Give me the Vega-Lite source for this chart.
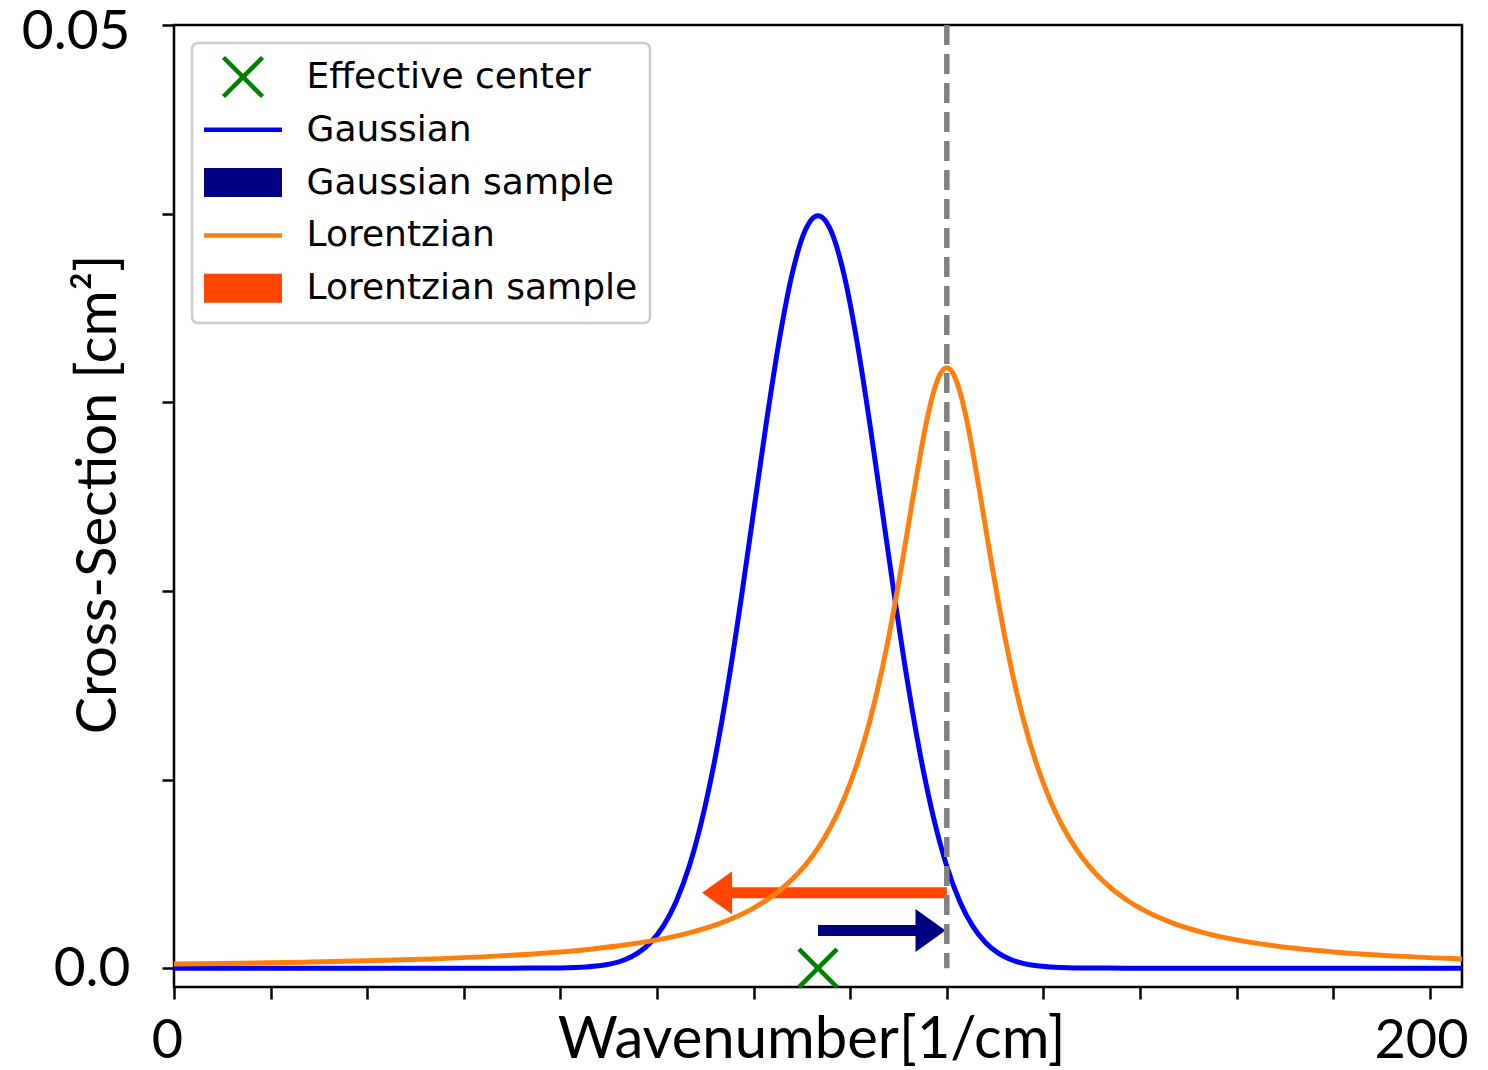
{
  "$schema": "https://vega.github.io/schema/vega-lite/v6.json",
  "width": 1288,
  "height": 962,
  "autosize": {"type": "none"},
  "padding": {"left": 174, "top": 25, "right": 26, "bottom": 83},
  "background": "white",
  "config": {
    "view": {"stroke": "black", "strokeWidth": 2.5},
    "axis": {
      "grid": false, "domain": false, "tickColor": "black", "tickWidth": 2.5, "tickSize": 12,
      "labelColor": "black", "titleColor": "black", "labelFont": "Lato", "titleFont": "Lato", "titleFontWeight": "normal"
    },
    "legend": {"strokeWidth": 2.5}
  },
  "datasets": {
    "gauss": [
      {"x": 0, "y": 0, "series": "Gaussian"}, {"x": 50, "y": 0, "series": "Gaussian"},
      {"x": 55, "y": 0.0000016, "series": "Gaussian"}, {"x": 60, "y": 0.0000134, "series": "Gaussian"},
      {"x": 64, "y": 0.0000612, "series": "Gaussian"}, {"x": 66, "y": 0.000123, "series": "Gaussian"},
      {"x": 68, "y": 0.000238, "series": "Gaussian"}, {"x": 70, "y": 0.000443, "series": "Gaussian"},
      {"x": 72, "y": 0.000792, "series": "Gaussian"}, {"x": 74, "y": 0.001358, "series": "Gaussian"},
      {"x": 76, "y": 0.002239, "series": "Gaussian"}, {"x": 78, "y": 0.003547, "series": "Gaussian"},
      {"x": 80, "y": 0.005399, "series": "Gaussian"}, {"x": 82, "y": 0.007895, "series": "Gaussian"},
      {"x": 84, "y": 0.011092, "series": "Gaussian"}, {"x": 86, "y": 0.014973, "series": "Gaussian"},
      {"x": 88, "y": 0.019419, "series": "Gaussian"}, {"x": 90, "y": 0.024197, "series": "Gaussian"},
      {"x": 92, "y": 0.028969, "series": "Gaussian"}, {"x": 94, "y": 0.033322, "series": "Gaussian"},
      {"x": 96, "y": 0.036827, "series": "Gaussian"}, {"x": 98, "y": 0.039104, "series": "Gaussian"},
      {"x": 100, "y": 0.039894, "series": "Gaussian"}, {"x": 102, "y": 0.039104, "series": "Gaussian"},
      {"x": 104, "y": 0.036827, "series": "Gaussian"}, {"x": 106, "y": 0.033322, "series": "Gaussian"},
      {"x": 108, "y": 0.028969, "series": "Gaussian"}, {"x": 110, "y": 0.024197, "series": "Gaussian"},
      {"x": 112, "y": 0.019419, "series": "Gaussian"}, {"x": 114, "y": 0.014973, "series": "Gaussian"},
      {"x": 116, "y": 0.011092, "series": "Gaussian"}, {"x": 118, "y": 0.007895, "series": "Gaussian"},
      {"x": 120, "y": 0.005399, "series": "Gaussian"}, {"x": 122, "y": 0.003547, "series": "Gaussian"},
      {"x": 124, "y": 0.002239, "series": "Gaussian"}, {"x": 126, "y": 0.001358, "series": "Gaussian"},
      {"x": 128, "y": 0.000792, "series": "Gaussian"}, {"x": 130, "y": 0.000443, "series": "Gaussian"},
      {"x": 132, "y": 0.000238, "series": "Gaussian"}, {"x": 134, "y": 0.000123, "series": "Gaussian"},
      {"x": 136, "y": 0.0000612, "series": "Gaussian"}, {"x": 140, "y": 0.0000134, "series": "Gaussian"},
      {"x": 145, "y": 0.0000016, "series": "Gaussian"}, {"x": 150, "y": 0, "series": "Gaussian"},
      {"x": 200, "y": 0, "series": "Gaussian"}
    ],
    "lorentz": [
      {"x": 0, "y": 0.00022, "series": "Lorentzian"}, {"x": 10, "y": 0.000261, "series": "Lorentzian"},
      {"x": 20, "y": 0.000315, "series": "Lorentzian"}, {"x": 30, "y": 0.000388, "series": "Lorentzian"},
      {"x": 40, "y": 0.00049, "series": "Lorentzian"}, {"x": 50, "y": 0.000637, "series": "Lorentzian"},
      {"x": 60, "y": 0.00086, "series": "Lorentzian"}, {"x": 65, "y": 0.001019, "series": "Lorentzian"},
      {"x": 70, "y": 0.001224, "series": "Lorentzian"}, {"x": 75, "y": 0.001498, "series": "Lorentzian"},
      {"x": 80, "y": 0.001872, "series": "Lorentzian"}, {"x": 85, "y": 0.002402, "series": "Lorentzian"},
      {"x": 90, "y": 0.003183, "series": "Lorentzian"}, {"x": 92, "y": 0.003601, "series": "Lorentzian"},
      {"x": 94, "y": 0.004102, "series": "Lorentzian"}, {"x": 96, "y": 0.004709, "series": "Lorentzian"},
      {"x": 98, "y": 0.005451, "series": "Lorentzian"}, {"x": 100, "y": 0.006366, "series": "Lorentzian"},
      {"x": 102, "y": 0.007507, "series": "Lorentzian"}, {"x": 104, "y": 0.008941, "series": "Lorentzian"},
      {"x": 106, "y": 0.010754, "series": "Lorentzian"}, {"x": 108, "y": 0.013046, "series": "Lorentzian"},
      {"x": 110, "y": 0.015915, "series": "Lorentzian"}, {"x": 111, "y": 0.017586, "series": "Lorentzian"},
      {"x": 112, "y": 0.019409, "series": "Lorentzian"}, {"x": 113, "y": 0.021363, "series": "Lorentzian"},
      {"x": 114, "y": 0.023405, "series": "Lorentzian"}, {"x": 115, "y": 0.025465, "series": "Lorentzian"},
      {"x": 116, "y": 0.027441, "series": "Lorentzian"}, {"x": 117, "y": 0.029203, "series": "Lorentzian"},
      {"x": 118, "y": 0.030607, "series": "Lorentzian"}, {"x": 119, "y": 0.031516, "series": "Lorentzian"},
      {"x": 120, "y": 0.031831, "series": "Lorentzian"}, {"x": 121, "y": 0.031516, "series": "Lorentzian"},
      {"x": 122, "y": 0.030607, "series": "Lorentzian"}, {"x": 123, "y": 0.029203, "series": "Lorentzian"},
      {"x": 124, "y": 0.027441, "series": "Lorentzian"}, {"x": 125, "y": 0.025465, "series": "Lorentzian"},
      {"x": 126, "y": 0.023405, "series": "Lorentzian"}, {"x": 127, "y": 0.021363, "series": "Lorentzian"},
      {"x": 128, "y": 0.019409, "series": "Lorentzian"}, {"x": 129, "y": 0.017586, "series": "Lorentzian"},
      {"x": 130, "y": 0.015915, "series": "Lorentzian"}, {"x": 132, "y": 0.013046, "series": "Lorentzian"},
      {"x": 134, "y": 0.010754, "series": "Lorentzian"}, {"x": 136, "y": 0.008941, "series": "Lorentzian"},
      {"x": 138, "y": 0.007507, "series": "Lorentzian"}, {"x": 140, "y": 0.006366, "series": "Lorentzian"},
      {"x": 142, "y": 0.005451, "series": "Lorentzian"}, {"x": 144, "y": 0.004709, "series": "Lorentzian"},
      {"x": 146, "y": 0.004102, "series": "Lorentzian"}, {"x": 148, "y": 0.003601, "series": "Lorentzian"},
      {"x": 150, "y": 0.003183, "series": "Lorentzian"}, {"x": 155, "y": 0.002402, "series": "Lorentzian"},
      {"x": 160, "y": 0.001872, "series": "Lorentzian"}, {"x": 165, "y": 0.001498, "series": "Lorentzian"},
      {"x": 170, "y": 0.001224, "series": "Lorentzian"}, {"x": 180, "y": 0.00086, "series": "Lorentzian"},
      {"x": 190, "y": 0.000637, "series": "Lorentzian"}, {"x": 200, "y": 0.00049, "series": "Lorentzian"}
    ],
    "shafts": [
      {"x": 120, "xe": 86, "y": 0.004, "series": "Lorentzian sample"},
      {"x": 100, "xe": 116, "y": 0.002, "series": "Gaussian sample"}
    ],
    "headLeft": [{"x": 82, "y": 0.004, "series": "Lorentzian sample"}],
    "headRight": [{"x": 119.8, "y": 0.002, "series": "Gaussian sample"}],
    "vline": [{"x": 120, "y": 0.05, "y2": 0}],
    "center": [{"x": 100, "y": 0, "series": "Effective center"}]
  },
  "encoding": {
    "x": {
      "field": "x", "type": "quantitative",
      "scale": {"domain": [0, 200], "nice": false, "zero": false},
      "axis": {
        "title": "Wavenumber[1/cm]",
        "values": [0, 15, 30, 45, 60, 75, 90, 105, 120, 135, 150, 165, 180, 195, 200],
        "labelExpr": "datum.value === 0 ? '0' : datum.value === 200 ? '200' : ''",
        "labelFontSize": 54, "labelPadding": 58, "labelBaseline": "alphabetic",
        "labelFlush": false, "labelOverlap": false,
        "labelAlign": {"condition": {"test": "datum.value === 200", "value": "right"}, "value": "center"},
        "labelOffset": {"condition": [{"test": "datum.value === 0", "value": -7}, {"test": "datum.value === 200", "value": 6}], "value": 0},
        "tickOpacity": {"condition": {"test": "datum.value === 200", "value": 0}, "value": 1},
        "titleFontSize": 58, "titleX": 637, "titleY": 70, "titleBaseline": "alphabetic", "titleAlign": "center"
      }
    },
    "y": {
      "field": "y", "type": "quantitative",
      "scale": {"domain": [-0.001, 0.05], "nice": false, "zero": false},
      "axis": {
        "title": "Cross-Section [cm²]",
        "values": [0, 0.01, 0.02, 0.03, 0.04, 0.05],
        "labelExpr": "datum.value === 0 ? '0.0' : datum.value === 0.05 ? '0.05' : ''",
        "labelFontSize": 55, "labelPadding": 32, "labelBaseline": "middle",
        "labelOffset": {"condition": {"test": "datum.value === 0.05", "value": 6}, "value": 0},
        "labelFlush": false, "labelOverlap": false,
        "titleFontSize": 56, "titleAngle": 270, "titleX": -59, "titleY": 469,
        "titleBaseline": "alphabetic", "titleAlign": "center"
      }
    },
    "color": {
      "field": "series", "type": "nominal",
      "scale": {
        "domain": ["Effective center", "Gaussian", "Gaussian sample", "Lorentzian", "Lorentzian sample"],
        "range": ["#008000", "#0000ff", "#000080", "#ff7f0e", "#ff4500"]
      },
      "legend": {
        "title": null, "orient": "top-left", "offset": 18, "padding": 12, "columns": 1,
        "fillColor": "white", "strokeColor": "#cccccc", "cornerRadius": 6,
        "labelFont": "DejaVu Sans", "labelFontSize": 36, "labelColor": "black", "labelLimit": 800,
        "symbolSize": 1600, "symbolStrokeWidth": 4.5, "symbolOffset": 16.5, "labelOffset": 41,
        "clipHeight": 44, "rowPadding": 8.8,
        "encode": {
          "symbols": {
            "update": {
              "shape": [
                {"test": "datum.value === 'Effective center'", "value": "M-0.975,-0.975L0.975,0.975M0.975,-0.975L-0.975,0.975"},
                {"test": "datum.value === 'Gaussian' || datum.value === 'Lorentzian'", "value": "M-1.95,0L1.95,0"},
                {"value": "M-1.8375,-0.6125L1.8375,-0.6125L1.8375,0.6125L-1.8375,0.6125Z"}
              ],
              "fill": [
                {"test": "datum.value === 'Gaussian sample' || datum.value === 'Lorentzian sample'", "scale": "color", "field": "value"},
                {"value": "transparent"}
              ],
              "stroke": {"scale": "color", "field": "value"},
              "strokeWidth": {"value": 4.5},
              "size": {"value": 1600},
              "opacity": {"value": 1}
            }
          }
        }
      }
    }
  },
  "layer": [
    {
      "data": {"name": "shafts"},
      "mark": {"type": "rule", "strokeCap": "butt", "strokeWidth": 11},
      "encoding": {"x2": {"field": "xe"}}
    },
    {
      "data": {"name": "headLeft"},
      "mark": {"type": "point", "size": 3600, "filled": true, "opacity": 1, "strokeWidth": 0, "shape": "M0,0L1,-0.717L1,0.717Z"}
    },
    {
      "data": {"name": "headRight"},
      "mark": {"type": "point", "size": 3600, "filled": true, "opacity": 1, "strokeWidth": 0, "shape": "M0,0L-1,-0.717L-1,0.717Z"}
    },
    {
      "data": {"name": "gauss"},
      "mark": {"type": "line", "interpolate": "monotone", "strokeWidth": 5}
    },
    {
      "data": {"name": "lorentz"},
      "mark": {"type": "line", "interpolate": "monotone", "strokeWidth": 5}
    },
    {
      "data": {"name": "vline"},
      "mark": {"type": "rule", "strokeDash": [20, 9], "strokeCap": "butt", "strokeWidth": 5.5},
      "encoding": {"y2": {"field": "y2"}, "color": {"value": "#808080"}}
    },
    {
      "data": {"name": "center"},
      "mark": {"type": "point", "size": 1444, "filled": false, "opacity": 1, "strokeWidth": 4.5, "shape": "M-1,-1L1,1M1,-1L-1,1"}
    }
  ]
}
